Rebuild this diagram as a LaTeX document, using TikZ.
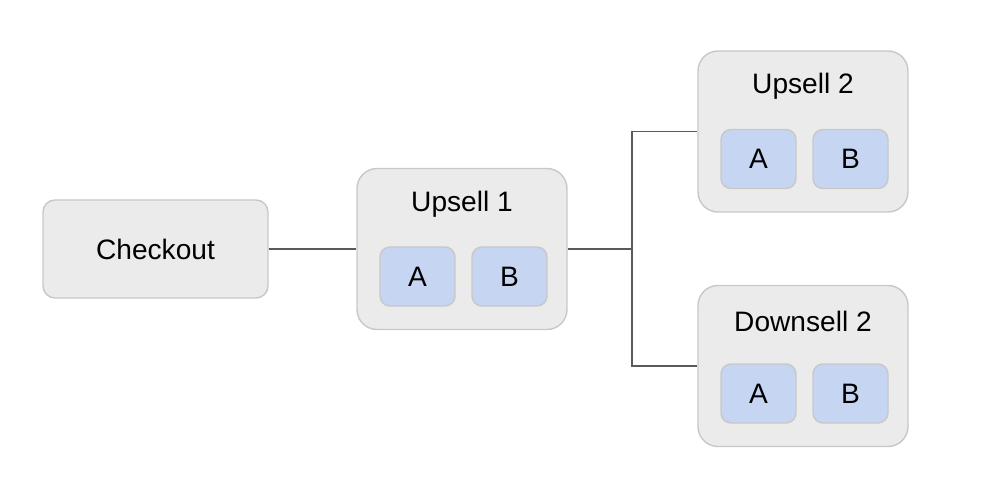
\documentclass[tikz,border=0pt]{standalone}
\usepackage{fontspec}
\setmainfont{Liberation Sans}
\definecolor{boxgray}{HTML}{EBEBEB}
\definecolor{edgegray}{HTML}{C8C8C8}
\definecolor{cellblue}{HTML}{C6D5F2}
\definecolor{linegray}{HTML}{5A5A5A}
\tikzset{
  stage/.style={draw=edgegray,fill=boxgray,line width=0.8pt,rounded corners=0.4cm,minimum width=4.2cm,minimum height=3.22cm},
  cell/.style={draw=edgegray,fill=cellblue,line width=0.8pt,rounded corners=0.2cm,minimum width=1.5cm,minimum height=1.18cm,font=\fontsize{16}{18}\selectfont},
  title/.style={font=\fontsize{16}{18}\selectfont},
  link/.style={draw=linegray,line width=1pt}
}
\begin{document}
\begin{tikzpicture}
    \useasboundingbox (0,0) rectangle (20,9.52);
    \node[draw=edgegray,fill=boxgray,line width=0.8pt,rounded corners=0.24cm,minimum width=4.5cm,minimum height=1.96cm,title] (checkout) at (3.11,4.54) {Checkout};
    \node[stage] (up1) at (9.24,4.54) {};
    \node[stage] (up2) at (16.06,6.89) {};
    \node[stage] (down2) at (16.06,2.2) {};
    \node[title] (up1t) at (9.24,5.44) {Upsell 1};
    \node[title] (up2t) at (16.06,7.79) {Upsell 2};
    \node[title] (down2t) at (16.06,3.1) {Downsell 2};
    \node[cell] (up1a) at (8.35,3.99) {A};
    \node[cell] (up1b) at (10.19,3.99) {B};
    \node[cell] (up2a) at (15.17,6.34) {A};
    \node[cell] (up2b) at (17.01,6.34) {B};
    \node[cell] (down2a) at (15.17,1.65) {A};
    \node[cell] (down2b) at (17.01,1.65) {B};
    \coordinate (fork) at (12.64,4.54);
    \draw[link] (checkout.east)--(up1.west);
    \draw[link] (up1.east)--(fork);
    \draw[link] (fork)|-(up2.west);
    \draw[link] (fork)|-(down2.west);
\end{tikzpicture}
\end{document}
